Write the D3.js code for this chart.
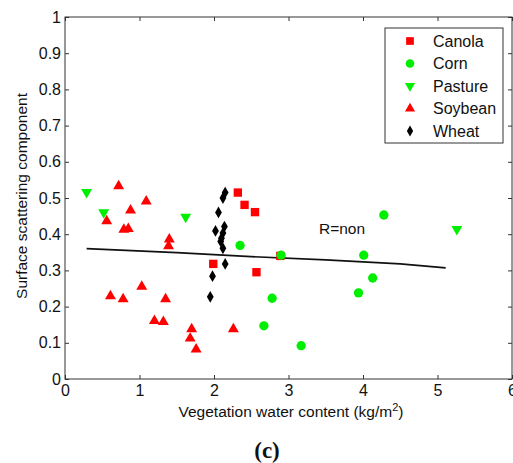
<!DOCTYPE html>
<html><head><meta charset="utf-8">
<script src="https://cdn.jsdelivr.net/npm/d3@7"></script>
<style>body{margin:0;background:#fff}svg{display:block;font-family:"Liberation Sans",Arial,sans-serif}</style>
</head><body>
<script>
const seriesNames = ["Canola","Corn","Pasture","Soybean","Wheat"];
const canolaX = [2.32,2.41,2.55,1.99,2.57,2.89];
const canolaY = [0.515,0.481,0.461,0.318,0.295,0.340];
const cornX = [2.35,2.90,2.78,2.67,3.17,4.28,4.01,4.13,3.94];
const cornY = [0.369,0.342,0.223,0.147,0.092,0.453,0.342,0.279,0.238];
const pastureX = [0.29,0.52,1.62,5.26];
const pastureY = [0.516,0.460,0.448,0.414];
const soybeanX = [0.72,1.09,0.88,0.56,0.79,0.85,1.40,1.39,1.03,0.61,0.78,1.35,1.20,1.32,1.70,1.68,1.76,2.26];
const soybeanY = [0.533,0.491,0.466,0.436,0.413,0.415,0.386,0.367,0.255,0.229,0.221,0.221,0.161,0.158,0.138,0.112,0.082,0.138];
const wheatX = [2.15,2.12,2.06,2.02,2.14,2.12,2.10,2.09,2.12,2.15,1.98,1.95];
const wheatY = [0.515,0.500,0.460,0.409,0.421,0.403,0.389,0.380,0.361,0.318,0.284,0.227];
const fitX = [0.29,1.5,2.5,3.5,4.5,5.11];
const fitY = [0.360,0.349,0.338,0.329,0.318,0.307];
const xTicks = [0,1,2,3,4,5,6];
const yTicks = [0,0.1,0.2,0.3,0.4,0.5,0.6,0.7,0.8,0.9,1];

const W=513,H=463;
const FONT="Liberation Sans, Arial, sans-serif";
const svg=d3.select("body").append("svg").attr("width",W).attr("height",H);
const x=d3.scaleLinear().domain([0,6]).range([65,512]);
const y=d3.scaleLinear().domain([0,1]).range([379,17]);

const colors={Canola:"#ff0000",Corn:"#00ee00",Pasture:"#00ee00",Soybean:"#ff0000",Wheat:"#000000"};
const shapes={Canola:d3.symbolSquare,Corn:d3.symbolCircle,Pasture:d3.symbolTriangle,Soybean:d3.symbolTriangle,Wheat:d3.symbolDiamond};
const sizes={Canola:70,Corn:68,Pasture:52,Soybean:52,Wheat:40};
const rot={Canola:0,Corn:0,Pasture:180,Soybean:0,Wheat:0};
const data={Canola:[canolaX,canolaY],Corn:[cornX,cornY],Pasture:[pastureX,pastureY],Soybean:[soybeanX,soybeanY],Wheat:[wheatX,wheatY]};

// axes
const gx=svg.append("g").attr("transform","translate(0,379)")
  .call(d3.axisBottom(x).tickValues(xTicks).tickSize(-4).tickPadding(6).tickFormat(d3.format("d")));
const gxt=svg.append("g").attr("transform","translate(0,17)")
  .call(d3.axisTop(x).tickValues(xTicks).tickSize(-4).tickFormat(""));
const gy=svg.append("g").attr("transform","translate(65,0)")
  .call(d3.axisLeft(y).tickValues(yTicks).tickSize(-4).tickPadding(4).tickFormat(d=>d===0||d===1?String(d):d3.format(".1f")(d)));
const gyr=svg.append("g").attr("transform","translate(512,0)")
  .call(d3.axisRight(y).tickValues(yTicks).tickSize(-4).tickFormat(""));
[gx,gxt,gy,gyr].forEach(g=>{g.selectAll("path,line").attr("stroke","#333").attr("stroke-width",1);
  g.selectAll("path").attr("d",null);
  g.selectAll("text").attr("font-size",16).attr("fill","#111").attr("font-family",FONT);});
svg.append("rect").attr("x",65).attr("y",17).attr("width",447).attr("height",362).attr("fill","none").attr("stroke","#333");

// fit line
svg.append("path").datum(fitX.map((v,i)=>[v,fitY[i]]))
  .attr("d",d3.line().x(d=>x(d[0])).y(d=>y(d[1]))).attr("fill","none").attr("stroke","#111").attr("stroke-width",1.7);

// points
seriesNames.forEach(n=>{
  const [xs,ys]=data[n];
  svg.append("g").selectAll("path").data(xs.map((v,i)=>[v,ys[i]])).join("path")
   .attr("d",d3.symbol().type(shapes[n]).size(sizes[n]))
   .attr("transform",d=>`translate(${x(d[0])},${y(d[1])}) rotate(${rot[n]})`)
   .attr("fill",colors[n]);
});

svg.append("text").attr("x",319).attr("y",234).attr("font-size",15.5).attr("fill","#111").attr("font-family",FONT).text("R=non");

// legend
svg.append("rect").attr("x",385).attr("y",28).attr("width",118).attr("height",115).attr("fill","#fff").attr("stroke","#333");
seriesNames.forEach((n,i)=>{
  const cy=41+i*22.5;
  svg.append("path").attr("d",d3.symbol().type(shapes[n]).size(sizes[n]*0.85)())
    .attr("transform",`translate(410,${cy}) rotate(${rot[n]})`).attr("fill",colors[n]);
  svg.append("text").attr("x",433).attr("y",cy+5.5).attr("font-size",16).attr("fill","#111").attr("font-family",FONT).text(n);
});

// labels
svg.append("text").attr("x",291).attr("y",417).attr("text-anchor","middle").attr("font-size",15.5).attr("fill","#111").attr("font-family",FONT)
  .html('Vegetation water content (kg/m<tspan dy="-6" font-size="11">2</tspan><tspan dy="6">)</tspan>');
svg.append("text").attr("transform","translate(27,196) rotate(-90)").attr("text-anchor","middle").attr("font-size",15.5).attr("fill","#111").attr("font-family",FONT)
  .text("Surface scattering component");
svg.append("text").attr("x",267).attr("y",458).attr("text-anchor","middle").attr("font-size",23).attr("font-weight","bold")
  .attr("font-family","Liberation Serif, Times New Roman, serif").attr("fill","#111").text("(c)");
</script>
</body></html>
